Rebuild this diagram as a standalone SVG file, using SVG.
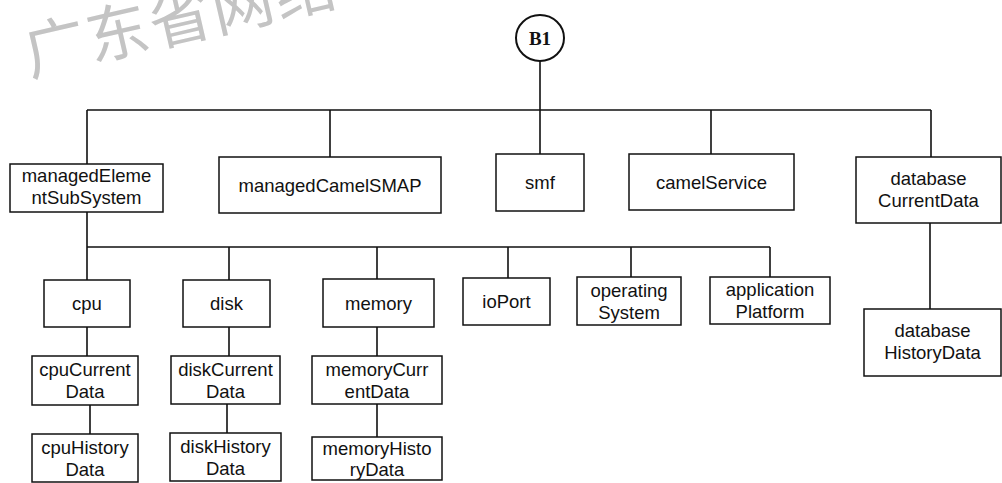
<svg xmlns="http://www.w3.org/2000/svg" width="1002" height="483" viewBox="0 0 1002 483">
<style>
.box{fill:#fff;stroke:#111;stroke-width:1.5}
.lbl{font-family:"Liberation Sans",Arial,sans-serif;font-size:18.5px;fill:#111;text-anchor:middle}
.ln{stroke:#111;stroke-width:1.6;fill:none}
.wm{font-family:"Noto Sans CJK SC",sans-serif;font-size:62px;fill:#c4c4c4;letter-spacing:2px}
</style>
<rect width="1002" height="483" fill="#fff"/>
<text class="wm" x="30" y="76" transform="rotate(-13 30 76)">广东省网络</text>
<g id="connectors">
<path class="ln" d="M540 61V110M87 110H931M87 110V164M330 110V157M540 110V154M711 110V154M931 110V157"/>
<path class="ln" d="M87 212V280M87 247H770M229 247V280M377 247V279M508 247V278M631 247V277M770 247V277"/>
<path class="ln" d="M930 223V309"/>
<path class="ln" d="M87 327V356M90 405V434M229 327V356M227 404V433M377 327V356M377 404V437"/>
</g>
<g id="B1"><ellipse cx="540" cy="38" rx="24" ry="23" fill="#fff" stroke="#111" stroke-width="2"/><text x="540" y="45" style="font-family:'Liberation Serif',serif;font-weight:bold;font-size:19px;fill:#111;text-anchor:middle">B1</text></g>
<g id="managedElementSubSystem"><rect class="box" x="10" y="164" width="153" height="48"/><text class="lbl" x="86.5" y="182">managedEleme</text><text class="lbl" x="86.5" y="204">ntSubSystem</text></g>
<g id="managedCamelSMAP"><rect class="box" x="219" y="157" width="222" height="56"/><text class="lbl" x="330" y="191.5">managedCamelSMAP</text></g>
<g id="smf"><rect class="box" x="496" y="154" width="88" height="57"/><text class="lbl" x="540" y="189">smf</text></g>
<g id="camelService"><rect class="box" x="629" y="154" width="165" height="56"/><text class="lbl" x="711.5" y="188.5">camelService</text></g>
<g id="databaseCurrentData"><rect class="box" x="856" y="157" width="145" height="66"/><text class="lbl" x="928.5" y="185">database</text><text class="lbl" x="928.5" y="207">CurrentData</text></g>
<g id="cpu"><rect class="box" x="44" y="280" width="86" height="47"/><text class="lbl" x="87" y="310">cpu</text></g>
<g id="disk"><rect class="box" x="183" y="280" width="87" height="47"/><text class="lbl" x="226.5" y="310">disk</text></g>
<g id="memory"><rect class="box" x="323" y="279" width="111" height="48"/><text class="lbl" x="378.5" y="309.5">memory</text></g>
<g id="ioPort"><rect class="box" x="463" y="278" width="87" height="47"/><text class="lbl" x="506.5" y="308">ioPort</text></g>
<g id="operatingSystem"><rect class="box" x="577" y="277" width="104" height="48"/><text class="lbl" x="629" y="297">operating</text><text class="lbl" x="629" y="319">System</text></g>
<g id="applicationPlatform"><rect class="box" x="710" y="277" width="120" height="47"/><text class="lbl" x="770" y="296">application</text><text class="lbl" x="770" y="318">Platform</text></g>
<g id="databaseHistoryData"><rect class="box" x="864" y="309" width="137" height="67"/><text class="lbl" x="932.5" y="337">database</text><text class="lbl" x="932.5" y="359">HistoryData</text></g>
<g id="cpuCurrentData"><rect class="box" x="32" y="356" width="106" height="49"/><text class="lbl" x="85" y="376">cpuCurrent</text><text class="lbl" x="85" y="398">Data</text></g>
<g id="diskCurrentData"><rect class="box" x="171" y="356" width="109" height="48"/><text class="lbl" x="225.5" y="376">diskCurrent</text><text class="lbl" x="225.5" y="398">Data</text></g>
<g id="memoryCurrentData"><rect class="box" x="312" y="356" width="130" height="48"/><text class="lbl" x="377" y="376">memoryCurr</text><text class="lbl" x="377" y="398">entData</text></g>
<g id="cpuHistoryData"><rect class="box" x="32" y="434" width="106" height="48"/><text class="lbl" x="85" y="454">cpuHistory</text><text class="lbl" x="85" y="476">Data</text></g>
<g id="diskHistoryData"><rect class="box" x="170" y="433" width="111" height="48"/><text class="lbl" x="225.5" y="453">diskHistory</text><text class="lbl" x="225.5" y="475">Data</text></g>
<g id="memoryHistoryData"><rect class="box" x="312" y="437" width="130" height="43"/><text class="lbl" x="377" y="455">memoryHisto</text><text class="lbl" x="377" y="476">ryData</text></g>
</svg>
